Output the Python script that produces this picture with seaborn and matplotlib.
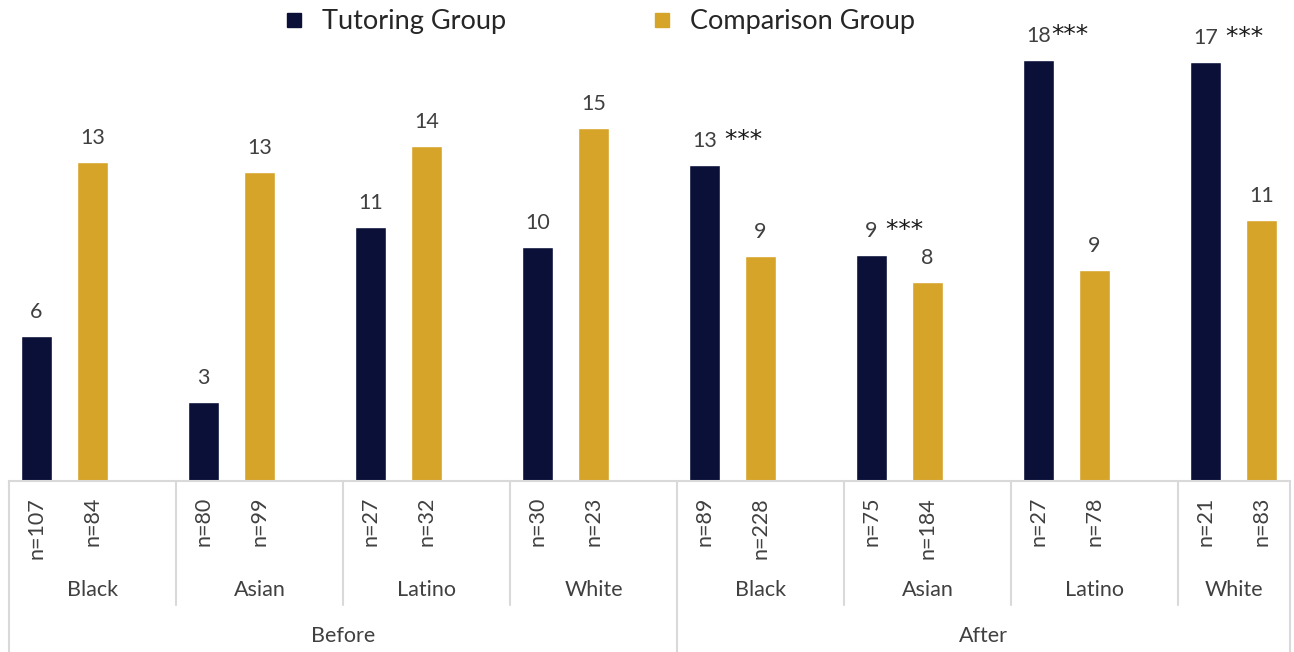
import numpy as np
import pandas as pd
import matplotlib.pyplot as plt
import matplotlib.transforms as mtransforms
from matplotlib.lines import Line2D
import seaborn as sns

# Valores (altura das barras e rótulos)
races = ['Black', 'Asian', 'Latino', 'White', 'Black', 'Asian', 'Latino', 'White']
periods = ['Before', 'After']
tutoring = [6.05, 3.28, 10.6, 9.75, 13.2, 9.45, 17.56, 17.48]
comparison = [13.3, 12.9, 14.0, 14.75, 9.4, 8.3, 8.8, 10.9]
tutoring_labels = ['6', '3', '11', '10', '13', '9', '18', '17']
comparison_labels = ['13', '13', '14', '15', '9', '8', '9', '11']
tutoring_stars = ['', '', '', '', ' ***', ' ***', '***', ' ***']
tutoring_n = ['n=107', 'n=80', 'n=27', 'n=30', 'n=89', 'n=75', 'n=27', 'n=21']
comparison_n = ['n=84', 'n=99', 'n=32', 'n=23', 'n=228', 'n=184', 'n=78', 'n=83']

navy = '#0B1038'
gold = '#D6A429'
line_grey = '#D9D9D9'
text_grey = '#404040'
fs = 15.5

sns.set_style('white')
plt.rcParams['font.family'] = ['Lato', 'DejaVu Sans']

W, H = 1294, 652
fig = plt.figure(figsize=(W / 100, H / 100), dpi=100)
ax = fig.add_axes([9 / W, 171 / H, 1281 / W, 441 / H])

idx = np.arange(len(races))
tut_x = idx + 0.165
comp_x = idx + 0.5
df_tut = pd.DataFrame({'x': tut_x, 'value': tutoring})
df_comp = pd.DataFrame({'x': comp_x, 'value': comparison})

sns.barplot(data=df_tut, x='x', y='value', native_scale=True, width=0.186,
            color=navy, saturation=1, errorbar=None, ax=ax)
sns.barplot(data=df_comp, x='x', y='value', native_scale=True, width=0.186,
            color=gold, saturation=1, errorbar=None, ax=ax)

xmax = 1281 / 167
ax.set_xlim(0, xmax)
ax.set_ylim(0, 441 / 23.95)
ax.set_xticks([])
ax.set_yticks([])
ax.set_xlabel('')
ax.set_ylabel('')
for s in ['top', 'left', 'right']:
    ax.spines[s].set_visible(False)
ax.spines['bottom'].set_color(line_grey)
ax.spines['bottom'].set_linewidth(1.5)

# Rótulos de valor
tut_texts = []
for x, v, lab in zip(tut_x, tutoring, tutoring_labels):
    t = ax.annotate(lab, (x, v), xytext=(0, 13), textcoords='offset points',
                    ha='center', va='baseline', fontsize=fs, color=text_grey)
    tut_texts.append(t)
for x, v, lab in zip(comp_x, comparison, comparison_labels):
    ax.annotate(lab, (x, v), xytext=(0, 13), textcoords='offset points',
                ha='center', va='baseline', fontsize=fs, color=text_grey)

# Asteriscos depois do número
fig.canvas.draw()
for t, x, v, st in zip(tut_texts, tut_x, tutoring, tutoring_stars):
    if not st:
        continue
    bb = t.get_window_extent()
    cx = ax.transData.transform((x, v))[0]
    dx = (bb.x1 - cx) * 72 / 100
    ax.annotate(st, (x, v), xytext=(dx, 13), textcoords='offset points',
                ha='left', va='baseline', fontsize=18, color='#1a1a1a',
                family='DejaVu Sans')

# Eixo categórico em vários níveis
trans = mtransforms.blended_transform_factory(ax.transData, fig.transFigure)
for x, lab in zip(tut_x, tutoring_n):
    ax.text(x, 1 - 497 / H, lab, rotation=90, ha='center', va='top',
            fontsize=fs, color=text_grey, transform=trans)
for x, lab in zip(comp_x, comparison_n):
    ax.text(x, 1 - 497 / H, lab, rotation=90, ha='center', va='top',
            fontsize=fs, color=text_grey, transform=trans)
for i, r in enumerate(races):
    cx = (i + min(i + 1, xmax)) / 2
    ax.text(cx, 1 - 590 / H, r, ha='center', va='center',
            fontsize=fs, color=text_grey, transform=trans)
ax.text(2, 1 - 636 / H, periods[0], ha='center', va='center',
        fontsize=fs, color=text_grey, transform=trans)
ax.text((4 + xmax) / 2, 1 - 636 / H, periods[1], ha='center', va='center',
        fontsize=fs, color=text_grey, transform=trans)

for x in [1, 2, 3, 5, 6, 7]:
    fig.add_artist(Line2D([x, x], [171 / H, 1 - 605 / H], color=line_grey,
                          lw=1.5, transform=trans))
for x in [0, 4, xmax]:
    fig.add_artist(Line2D([x, x], [171 / H, 0], color=line_grey,
                          lw=1.5, transform=trans))

# Legenda
handles = [Line2D([], [], marker='s', ls='', color=navy, markersize=10),
           Line2D([], [], marker='s', ls='', color=gold, markersize=10)]
fig.legend(handles, ['Tutoring Group', 'Comparison Group'], loc='center',
           bbox_to_anchor=(601 / W, 1 - 22 / H), ncol=2, frameon=False,
           fontsize=19.5, handlelength=0.5, handletextpad=0.8,
           columnspacing=5.5)

fig.savefig('out.png', dpi=100)
